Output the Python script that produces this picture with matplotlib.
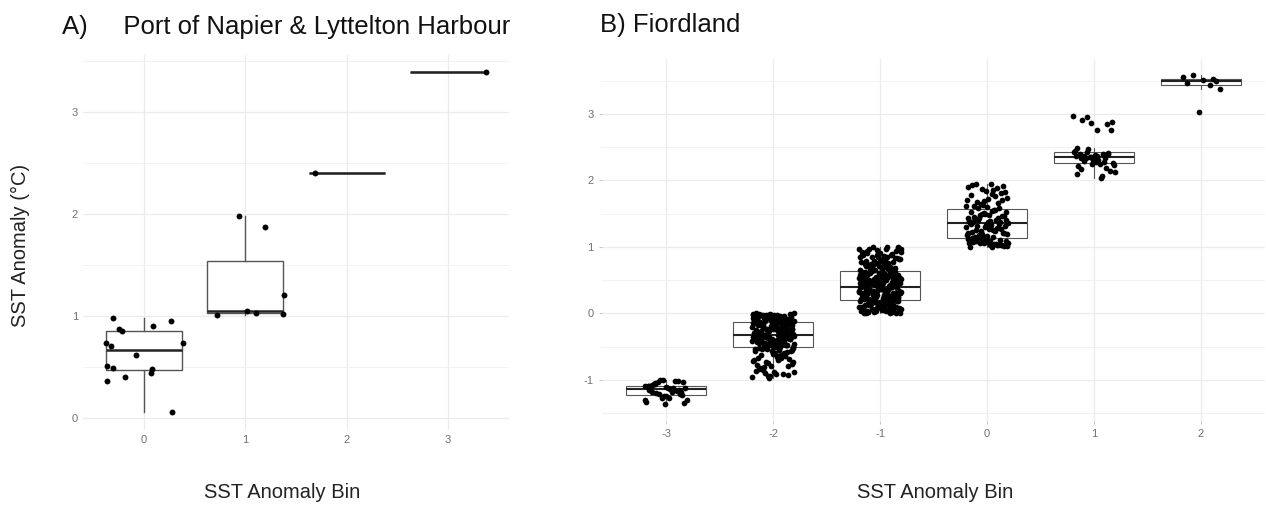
import numpy as np
import matplotlib
matplotlib.use("Agg")
import matplotlib.pyplot as plt
from matplotlib.ticker import MultipleLocator

plt.rcParams['font.family'] = ['Liberation Sans', 'DejaVu Sans']
plt.rcParams['axes.unicode_minus'] = False

# ---- panel A: Port of Napier & Lyttelton Harbour ----
bins_a = [0, 1, 2, 3]
sst_a = {
    0: [0.98, 0.95, 0.90, 0.87, 0.85, 0.74, 0.71, 0.74,
        0.62, 0.51, 0.49, 0.48, 0.44, 0.40, 0.36, 0.06],
    1: [1.98, 1.87, 1.21, 1.05, 1.01, 1.03, 1.02],
    2: [2.40],
    3: [3.39],
}
# horizontal jitter of each point
jitter_a = {
    0: [-0.30, 0.27, 0.09, -0.25, -0.22, -0.37, -0.32, 0.39,
        -0.08, -0.36, -0.30, 0.08, 0.07, -0.19, -0.36, 0.28],
    1: [-0.06, 0.19, 0.38, 0.02, -0.28, 0.11, 0.37],
    2: [-0.31],
    3: [0.37],
}

# ---- panel B: Fiordland ----
bins_b = [-3, -2, -1, 0, 1, 2]
sst_b = {
    -3: [-1.31, -1.14, -1.05, -1.19, -1.37, -1.10, -1.02, -1.22, -1.12, -1.27,
         -1.08, -1.16, -1.01, -1.33, -1.13, -1.20, -1.04, -1.25, -1.11, -1.17,
         -1.00, -1.30, -1.14, -1.07, -1.21, -1.24, -1.09, -1.16, -1.03, -1.35,
         -1.12, -1.18, -1.02, -1.28, -1.10, -1.19, -1.06, -1.23, -1.11, -1.15],
    -2: [-0.95, -0.88, -0.71, -0.62, -0.93, -0.80, -0.57, -0.67, -0.90, -0.76,
         -0.59, -0.84, -0.65, -0.97, -0.72, -0.55, -0.86, -0.69, -0.61, -0.78,
         -0.92, -0.54, -0.74, -0.66, -0.83, -0.58, -0.94, -0.70, -0.63, -0.81,
         -0.56, -0.89, -0.68, -0.60, -0.75, -0.96, -0.64, -0.53, -0.79, -0.57,
         -0.87, -0.62, -0.73, -0.55, -0.91,
         -0.52, -0.47, -0.41, -0.36, -0.50, -0.44, -0.38, -0.49, -0.43, -0.35,
         -0.51, -0.46, -0.40, -0.37, -0.48, -0.42, -0.53, -0.39, -0.45, -0.36,
         -0.50, -0.44, -0.38, -0.47, -0.41, -0.52, -0.43, -0.37, -0.49, -0.40,
         -0.46, -0.35, -0.51, -0.42, -0.39, -0.48, -0.45, -0.36, -0.43, -0.50,
         -0.38, -0.47, -0.41, -0.44, -0.37,
         -0.34, -0.27, -0.19, -0.31, -0.22, -0.15, -0.29, -0.33, -0.24, -0.17,
         -0.30, -0.21, -0.26, -0.14, -0.32, -0.18, -0.28, -0.23, -0.35, -0.16,
         -0.25, -0.31, -0.20, -0.27, -0.34, -0.19, -0.29, -0.15, -0.22, -0.33,
         -0.24, -0.17, -0.30, -0.26, -0.21, -0.32, -0.18, -0.28, -0.14, -0.25,
         -0.20, -0.35, -0.23, -0.16, -0.29,
         -0.13, -0.08, -0.02, -0.11, -0.05, -0.01, -0.09, -0.12, -0.04, -0.07,
         0.00, -0.10, -0.03, -0.13, -0.06, -0.02, -0.09, -0.11, -0.05, -0.08,
         -0.01, -0.12, -0.04, -0.07, -0.10, -0.03, -0.14, -0.06, 0.00, -0.09,
         -0.02, -0.11, -0.05, -0.13, -0.08, -0.01, -0.10, -0.04, -0.07, -0.12,
         -0.03, -0.06, -0.09, -0.02, -0.11,
         -0.45, -0.31, -0.12, -0.39, -0.04, -0.27, -0.50, -0.18, -0.08, -0.42,
         -0.22, -0.36, -0.01, -0.47, -0.15, -0.29, -0.06, -0.33, -0.10, -0.24,
         -0.52, -0.02, -0.38, -0.20, -0.44, -0.13, -0.26, -0.07, -0.35, -0.17],
    -1: [0.01, 0.03, 0.00, 0.05, 0.02, 0.08, 0.11, 0.04, 0.14, 0.07,
         0.19, 0.06, 0.12, 0.02, 0.17, 0.09, 0.20, 0.13, 0.01, 0.16,
         0.10, 0.04, 0.18, 0.06, 0.15, 0.03, 0.12, 0.08, 0.21, 0.05,
         0.14, 0.19, 0.09, 0.00, 0.11, 0.17, 0.07, 0.13, 0.02, 0.20,
         0.16, 0.10, 0.04, 0.18, 0.08, 0.15, 0.01, 0.12, 0.06, 0.19,
         0.03, 0.14, 0.09, 0.17, 0.05,
         0.22, 0.25, 0.31, 0.28, 0.37, 0.24, 0.34, 0.40, 0.27, 0.33,
         0.23, 0.36, 0.29, 0.39, 0.26, 0.32, 0.35, 0.22, 0.30, 0.38,
         0.25, 0.41, 0.28, 0.34, 0.23, 0.37, 0.31, 0.27, 0.40, 0.24,
         0.33, 0.29, 0.36, 0.26, 0.39, 0.22, 0.32, 0.35, 0.30, 0.25,
         0.38, 0.28, 0.23, 0.34, 0.31, 0.37, 0.27, 0.40, 0.24, 0.33,
         0.29, 0.36, 0.26, 0.39, 0.30,
         0.42, 0.47, 0.53, 0.45, 0.58, 0.61, 0.44, 0.50, 0.56, 0.63,
         0.48, 0.43, 0.55, 0.60, 0.46, 0.52, 0.59, 0.49, 0.62, 0.54,
         0.41, 0.57, 0.45, 0.51, 0.64, 0.47, 0.53, 0.43, 0.58, 0.50,
         0.61, 0.44, 0.56, 0.48, 0.63, 0.52, 0.46, 0.59, 0.42, 0.55,
         0.49, 0.60, 0.54, 0.45, 0.57, 0.51, 0.62, 0.47, 0.43, 0.53,
         0.58, 0.50, 0.44, 0.61, 0.56,
         0.66, 0.72, 0.81, 0.69, 0.94, 0.77, 0.88, 0.65, 0.99, 0.74,
         0.83, 0.70, 0.91, 0.67, 0.79, 0.96, 0.86, 0.73, 0.68, 0.85,
         0.92, 0.76, 0.64, 0.98, 0.80, 0.71, 0.89, 0.75, 0.84, 0.97,
         0.66, 0.93, 0.78, 0.87, 0.69, 1.00, 0.82, 0.73, 0.90, 0.67,
         0.95, 0.77, 0.85, 0.70, 0.99, 0.81, 0.74, 0.88, 0.65, 0.92,
         0.79, 0.96, 0.83, 0.71, 0.87,
         0.07, 0.33, 0.52, 0.18, 0.79, 0.26, 0.04, 0.45, 0.68, 0.12,
         0.38, 0.91, 0.21, 0.57, 0.02, 0.30, 0.74, 0.15, 0.48, 0.09,
         0.62, 0.35, 0.84, 0.24, 0.05, 0.43, 0.17, 0.55, 0.97, 0.28],
    0: [1.00, 1.02, 1.05, 1.01, 1.08, 1.11, 1.03, 1.06, 1.12, 1.04,
        1.09, 1.01, 1.07, 1.13, 1.02, 1.10, 1.05, 1.00, 1.08, 1.03,
        1.11, 1.06, 1.04, 1.12, 1.09, 1.02, 1.07, 1.10,
        1.14, 1.18, 1.25, 1.31, 1.21, 1.16, 1.34, 1.28, 1.23, 1.19,
        1.33, 1.15, 1.26, 1.30, 1.20, 1.24, 1.17, 1.32, 1.27, 1.22,
        1.35, 1.19, 1.29, 1.15, 1.25, 1.21, 1.33,
        1.36, 1.41, 1.48, 1.53, 1.39, 1.45, 1.37, 1.51, 1.44, 1.55,
        1.40, 1.47, 1.38, 1.52, 1.43, 1.49, 1.36, 1.54, 1.42, 1.46,
        1.50, 1.39, 1.56, 1.44, 1.41, 1.48, 1.37,
        1.58, 1.63, 1.71, 1.85, 1.67, 1.92, 1.60, 1.78, 1.88, 1.65,
        1.74, 1.95, 1.62, 1.81, 1.69, 1.90, 1.76, 1.59, 1.83, 1.72,
        1.93, 1.66, 1.87, 1.61, 1.79, 1.94, 1.70, 1.84],
    1: [2.31, 2.09, 2.40, 2.95, 2.26, 2.37, 2.17, 2.84, 2.35, 2.42,
        2.04, 2.29, 2.76, 2.38, 2.21, 2.34, 2.47, 2.12, 2.30, 2.90,
        2.41, 2.25, 2.36, 2.06, 2.33, 2.88, 2.27, 2.40, 2.19, 2.35,
        2.96, 2.24, 2.37, 2.14, 2.32, 2.49, 2.28, 2.42, 2.23, 2.75,
        2.34, 2.39, 2.86, 2.44],
    2: [3.49, 3.02, 3.55, 3.44, 3.58, 3.38, 3.51, 3.47, 3.53],
}

fig = plt.figure(figsize=(12.66, 5.09), dpi=100)
ax_a = fig.add_axes([83 / 1266, 1 - 430 / 509, 426 / 1266, 375 / 509])
ax_b = fig.add_axes([602 / 1266, 1 - 421 / 509, 663 / 1266, 362.4 / 509])


def style(ax, tick_len):
    for s in ax.spines.values():
        s.set_visible(False)
    ax.yaxis.set_minor_locator(MultipleLocator(0.5))
    ax.grid(which='major', color='#ebebeb', lw=0.9)
    ax.grid(which='minor', axis='y', color='#f2f2f2', lw=0.7)
    ax.set_axisbelow(True)
    ax.tick_params(which='both', length=0, labelsize=8, labelcolor='#707070')
    ax.tick_params(which='major', length=tick_len, color='#bbbbbb', width=0.6)


def draw(ax, bins, values, offsets, box_lw, med_lw, msize):
    data = [np.array(values[b]) for b in bins]
    ax.boxplot(data, positions=bins, widths=0.75, showfliers=False, showcaps=False,
               patch_artist=True, manage_ticks=False,
               boxprops=dict(facecolor='white', edgecolor='#555555', lw=box_lw),
               whiskerprops=dict(color='#555555', lw=box_lw),
               medianprops=dict(color='#222222', lw=med_lw), zorder=2)
    for b, off in zip(bins, offsets):
        ax.scatter(b + np.array(off), values[b], s=msize, color='black',
                   linewidths=0, zorder=3)


draw(ax_a, bins_a, sst_a, [jitter_a[b] for b in bins_a], 1.0, 1.8, 18)
ax_a.set_xlim(-0.6, 3.6)
ax_a.set_ylim(-0.117, 3.557)
ax_a.set_xticks(bins_a)
ax_a.set_yticks([0, 1, 2, 3])
style(ax_a, 0)

# small spread for the dense Fiordland points
phi = 0.6180339887
offs_b = []
for b in bins_b:
    n = len(sst_b[b])
    offs_b.append([0.2 * (2 * ((k * phi + 0.37 * (b + 3)) % 1.0) - 1) for k in range(n)])
draw(ax_b, bins_b, sst_b, offs_b, 0.8, 1.5, 17)
ax_b.set_xlim(-3.6, 2.6)
ax_b.set_ylim(-1.62, 3.83)
ax_b.set_xticks(bins_b)
ax_b.set_yticks([-1, 0, 1, 2, 3])
style(ax_b, 2.5)

fig.text(62 / 1266, 1 - 27 / 509, "A)     Port of Napier & Lyttelton Harbour",
         fontsize=18.5, va='center', color='#111111')
fig.text(600 / 1266, 1 - 25 / 509, "B) Fiordland",
         fontsize=18.5, va='center', color='#111111')
fig.text(282 / 1266, 1 - 493 / 509, "SST Anomaly Bin", fontsize=14.5,
         ha='center', va='center', color='#222222')
fig.text(935 / 1266, 1 - 493 / 509, "SST Anomaly Bin", fontsize=14.5,
         ha='center', va='center', color='#222222')
fig.text(20 / 1266, 1 - 245 / 509, "SST Anomaly (°C)", fontsize=14.5,
         rotation=90, ha='center', va='center', color='#222222')

fig.savefig('out.png', dpi=100)
